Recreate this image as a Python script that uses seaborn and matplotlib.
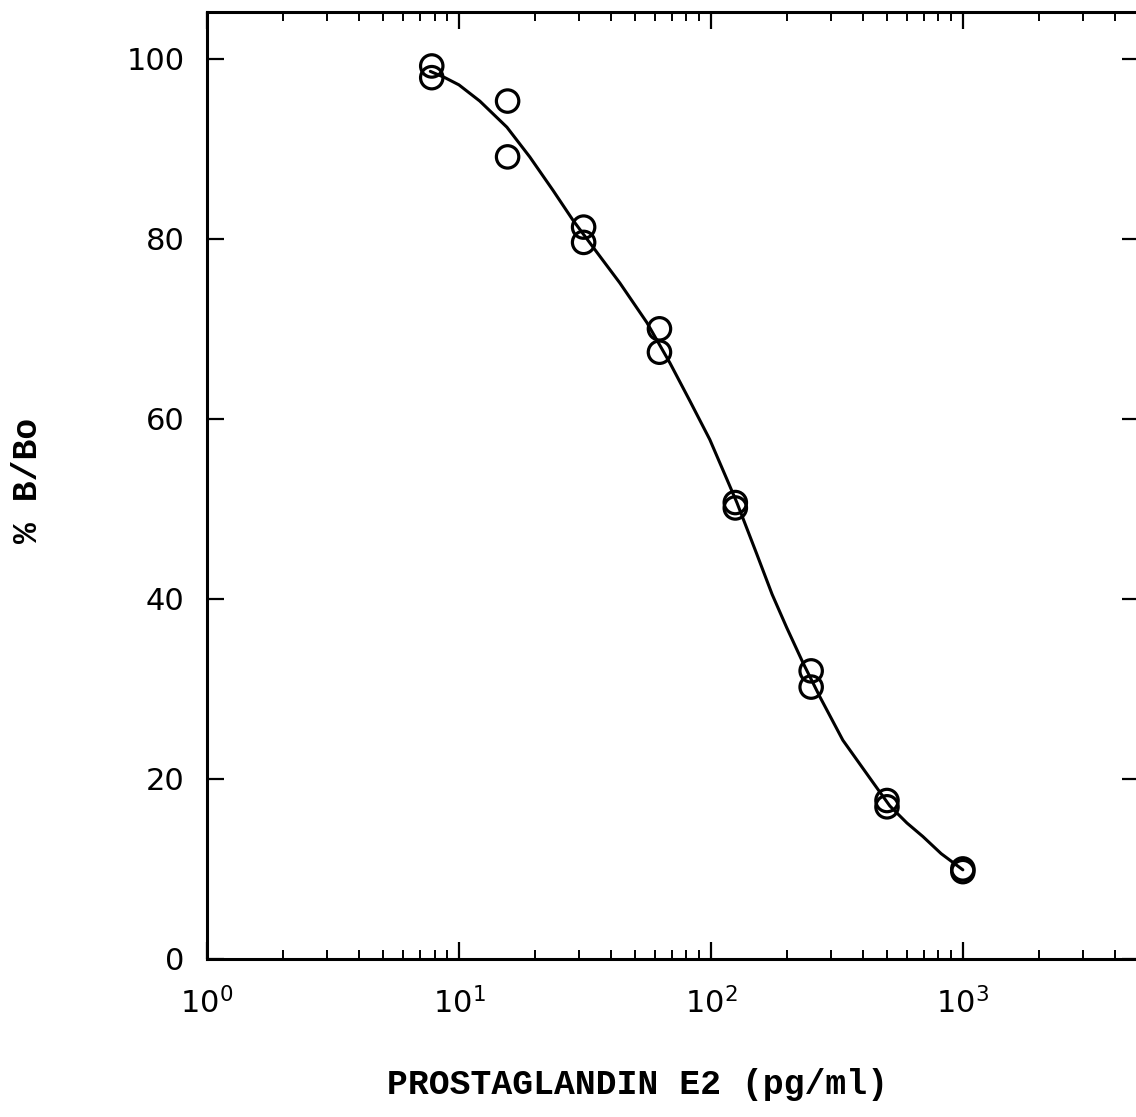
import numpy as np
import pandas as pd
import matplotlib
matplotlib.use('Agg')
import matplotlib.pyplot as plt
import seaborn as sns
from matplotlib.ticker import LogLocator, NullFormatter, FixedLocator

# standards (pg/ml), duplicate wells
conc = [7.8, 7.8, 15.6, 15.6, 31.25, 31.25, 62.5, 62.5,
        125, 125, 250, 250, 500, 500, 1000, 1000]
pct_bbo = [99.2, 97.9, 95.3, 89.1, 81.3, 79.6, 70.0, 67.4,
           50.7, 50.1, 32.0, 30.2, 17.6, 16.9, 10.0, 9.7]

# fitted curve
curve_x = [7.7, 8.8, 10.0, 12.1, 15.5, 19.1, 23.6, 28.3, 34.0, 43.5, 55.7, 68.8,
           82.5, 99, 115.7, 126.8, 152, 175, 200, 232, 271, 334, 440, 513, 600, 694, 820, 1000]
curve_y = [98.6, 97.9, 97.1, 95.3, 92.4, 89.1, 85.4, 82.1, 79.1, 75.1, 70.7, 66.2,
           62.0, 57.7, 53.3, 50.7, 45.0, 40.5, 36.8, 32.9, 29.1, 24.3, 19.6, 17.0, 15.1, 13.6, 11.7, 9.9]

y_ticks = [0, 20, 40, 60, 80, 100]

pts = pd.DataFrame({'conc': conc, 'pct': pct_bbo})
fit = pd.DataFrame({'conc': curve_x, 'pct': curve_y})

sns.set_style('ticks')
plt.rcParams['text.color'] = 'black'
plt.rcParams['xtick.color'] = 'black'
plt.rcParams['ytick.color'] = 'black'
plt.rcParams['axes.edgecolor'] = 'black'

fig = plt.figure(figsize=(11.36, 11.17), dpi=100)
ax = fig.add_axes([0.1822, 0.1415, 0.8204, 0.8478])

sns.lineplot(data=fit, x='conc', y='pct', color='black', linewidth=2.2, ax=ax, sort=False)
sns.scatterplot(data=pts, x='conc', y='pct', s=260, facecolors='none',
                edgecolor='black', linewidth=2.3, ax=ax, zorder=3)

ax.set_xscale('log')
ax.set_xlim(1, 5000)
ax.set_ylim(0, 105.2)
ax.set_yticks(y_ticks)
ax.xaxis.set_major_locator(FixedLocator([1, 10, 100, 1000]))
ax.xaxis.set_minor_locator(LogLocator(base=10, subs=np.arange(2, 10), numticks=20))
ax.xaxis.set_minor_formatter(NullFormatter())
ax.set_xlabel('')
ax.set_ylabel('')

for s in ax.spines.values():
    s.set_linewidth(2.2)
    s.set_visible(True)

ax.tick_params(axis='both', which='major', direction='in', length=12, width=1.6,
               labelsize=22, top=True, right=True, color='black', labelcolor='black')
ax.tick_params(axis='x', which='major', pad=20)
ax.tick_params(axis='y', which='major', pad=16)
ax.tick_params(axis='x', which='minor', direction='in', length=6.5, width=1.4,
               top=True, bottom=True)

fig.text(0.561, 0.0287, 'PROSTAGLANDIN E2 (pg/ml)', ha='center', va='center',
         fontsize=25, fontweight='bold', family='Liberation Mono', color='black')
fig.text(0.0246, 0.570, '% B/Bo', ha='center', va='center', rotation=90,
         fontsize=25, fontweight='bold', family='Liberation Mono', color='black')

fig.savefig('out.png', dpi=100, facecolor='white')
